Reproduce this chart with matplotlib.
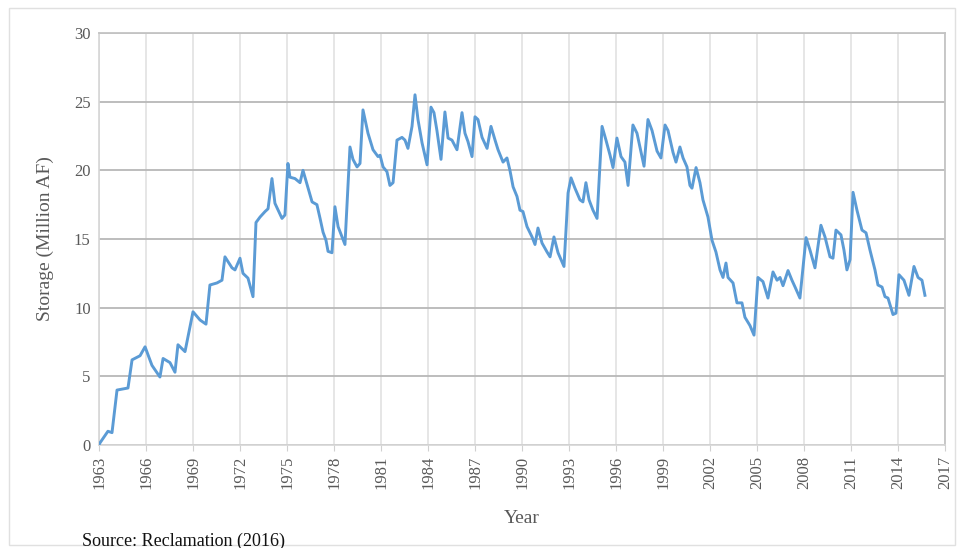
import matplotlib
matplotlib.use("Agg")
import matplotlib.pyplot as plt
from matplotlib.patches import Rectangle

years = [1963.00, 1963.06, 1963.57, 1963.83, 1964.15, 1964.85, 1965.11, 1965.62, 1965.94,
         1966.38, 1966.89, 1967.09, 1967.53, 1967.85, 1968.04, 1968.49, 1969.00, 1969.45,
         1969.83, 1970.08, 1970.53, 1970.85, 1971.04, 1971.49, 1971.68, 1972.00, 1972.19,
         1972.51, 1972.83, 1973.02, 1973.28, 1973.60, 1973.79, 1974.04, 1974.23, 1974.68,
         1974.87, 1975.06, 1975.19, 1975.51, 1975.83, 1976.02, 1976.60, 1976.91, 1977.11,
         1977.30, 1977.49, 1977.62, 1977.87, 1978.06, 1978.26, 1978.51, 1978.70, 1979.02,
         1979.21, 1979.47, 1979.66, 1979.85, 1980.17, 1980.49, 1980.81, 1980.94, 1981.13,
         1981.38, 1981.57, 1981.77, 1982.02, 1982.34, 1982.53, 1982.72, 1982.98, 1983.17,
         1983.36, 1983.62, 1983.94, 1984.19, 1984.38, 1984.57, 1984.83, 1985.08, 1985.28,
         1985.53, 1985.85, 1986.17, 1986.36, 1986.55, 1986.81, 1987.00, 1987.19, 1987.45,
         1987.77, 1988.02, 1988.28, 1988.47, 1988.79, 1989.04, 1989.23, 1989.43, 1989.68,
         1989.87, 1990.06, 1990.32, 1990.64, 1990.83, 1991.02, 1991.28, 1991.60, 1991.79,
         1992.04, 1992.30, 1992.68, 1992.94, 1993.13, 1993.38, 1993.70, 1993.89, 1994.08,
         1994.28, 1994.53, 1994.79, 1995.11, 1995.36, 1995.62, 1995.81, 1996.06, 1996.32,
         1996.57, 1996.77, 1997.08, 1997.34, 1997.66, 1997.79, 1998.04, 1998.30, 1998.62,
         1998.87, 1999.13, 1999.32, 1999.64, 1999.83, 2000.08, 2000.28, 2000.53, 2000.72,
         2000.85, 2001.11, 2001.36, 2001.55, 2001.87, 2002.13, 2002.38, 2002.64, 2002.83,
         2003.02, 2003.15, 2003.47, 2003.72, 2004.04, 2004.23, 2004.55, 2004.81, 2005.06,
         2005.38, 2005.70, 2006.02, 2006.28, 2006.47, 2006.66, 2006.98, 2007.23, 2007.43,
         2007.74, 2008.13, 2008.38, 2008.70, 2009.08, 2009.34, 2009.66, 2009.85, 2010.04,
         2010.36, 2010.55, 2010.74, 2010.94, 2011.13, 2011.38, 2011.70, 2011.96, 2012.21,
         2012.53, 2012.72, 2012.98, 2013.17, 2013.36, 2013.68, 2013.87, 2014.06, 2014.38,
         2014.70, 2015.02, 2015.28, 2015.53, 2015.72]

storage = [0.0, 0.15, 1.0, 0.9, 4.0, 4.15, 6.2, 6.5, 7.15,
           5.8, 4.95, 6.3, 6.0, 5.3, 7.3, 6.8, 9.7, 9.1,
           8.8, 11.65, 11.8, 12.0, 13.7, 12.9, 12.75, 13.6, 12.5,
           12.15, 10.8, 16.2, 16.6, 17.0, 17.2, 19.4, 17.6, 16.5,
           16.75, 20.5, 19.5, 19.4, 19.1, 20.0, 17.7, 17.5, 16.5,
           15.5, 14.9, 14.1, 14.0, 17.35, 15.9, 15.15, 14.6, 21.7,
           20.8, 20.25, 20.5, 24.4, 22.7, 21.5, 21.0, 21.1, 20.25,
           19.9, 18.9, 19.1, 22.2, 22.4, 22.2, 21.6, 23.2, 25.5,
           23.7, 22.0, 20.4, 24.6, 24.2, 22.9, 20.8, 24.25, 22.35,
           22.2, 21.5, 24.2, 22.7, 22.1, 21.0, 23.9, 23.7, 22.4,
           21.6, 23.2, 22.2, 21.5, 20.6, 20.9, 20.0, 18.8, 18.1,
           17.1, 17.0, 15.9, 15.15, 14.6, 15.8, 14.7, 14.05, 13.7,
           15.15, 14.0, 13.0, 18.35, 19.45, 18.7, 17.85, 17.7, 19.1,
           17.85, 17.1, 16.5, 23.2, 22.2, 21.1, 20.2, 22.35, 21.0,
           20.6, 18.9, 23.3, 22.7, 21.0, 20.3, 23.7, 22.9, 21.4,
           20.9, 23.3, 22.9, 21.3, 20.6, 21.7, 20.9, 20.25, 18.9,
           18.7, 20.2, 19.1, 17.85, 16.6, 14.9, 14.05, 12.75, 12.2,
           13.25, 12.2, 11.8, 10.35, 10.35, 9.3, 8.7, 8.0, 12.2,
           11.9, 10.7, 12.6, 12.0, 12.2, 11.6, 12.7, 12.0, 11.5,
           10.7, 15.1, 14.2, 12.9, 16.0, 15.15, 13.7, 13.6, 15.65,
           15.3, 14.2, 12.75, 13.5, 18.4, 17.1, 15.65, 15.45, 14.2,
           12.75, 11.65, 11.5, 10.8, 10.7, 9.5, 9.6, 12.4, 12.0,
           10.9, 13.0, 12.2, 12.0, 10.9]

x_ticks = list(range(1963, 2018, 3))
y_ticks = [0, 5, 10, 15, 20, 25, 30]

serif = ["Liberation Serif", "DejaVu Serif"]
plt.rcParams["font.family"] = serif

fig = plt.figure(figsize=(9.61, 5.48), dpi=100)
ax = fig.add_axes([99 / 961, 1 - 445 / 548, (945 - 99) / 961, (445 - 33) / 548])

ax.plot(years, storage, color="#5B9BD5", linewidth=2.1, solid_joinstyle="round", zorder=3)

ax.set_xlim(1963, 2017)
ax.set_ylim(0, 30)
ax.set_xticks(x_ticks)
ax.set_xticklabels([str(t) for t in x_ticks], rotation=90, fontsize=12, color="#595959")
ax.set_yticks(y_ticks)
ax.set_yticklabels([str(t) for t in y_ticks], fontsize=12, color="#595959")
ax.tick_params(axis="both", length=0, pad=6)
ax.tick_params(axis="x", length=4, color="#d0d0d0", pad=4)

ax.yaxis.grid(True, color="#b8b8b8", linewidth=1.3, zorder=1)
ax.xaxis.grid(True, color="#e2e2e2", linewidth=1.2, zorder=1)
ax.set_axisbelow(True)
for side in ["left", "bottom"]:
    ax.spines[side].set_color("#d6d6d6")
    ax.spines[side].set_linewidth(1.2)
for side in ["top", "right"]:
    ax.spines[side].set_color("#c4c4c4")
    ax.spines[side].set_linewidth(1.3)

ax.set_ylabel("Storage (Million AF)", fontsize=14, color="#595959", labelpad=14)
ax.set_xlabel("Year", fontsize=14, color="#595959", labelpad=15)

fig.text(82 / 961, 1 - 541 / 548, "Source: Reclamation (2016)", fontsize=13,
         color="#111111", ha="left", va="center")

fig.patches.append(Rectangle((9 / 961, 1 - 545 / 548), (955 - 9) / 961, (545 - 8) / 548,
                             transform=fig.transFigure, fill=False,
                             edgecolor="#e0e0e0", linewidth=1.0, zorder=0))

fig.savefig("out.png", dpi=100)
